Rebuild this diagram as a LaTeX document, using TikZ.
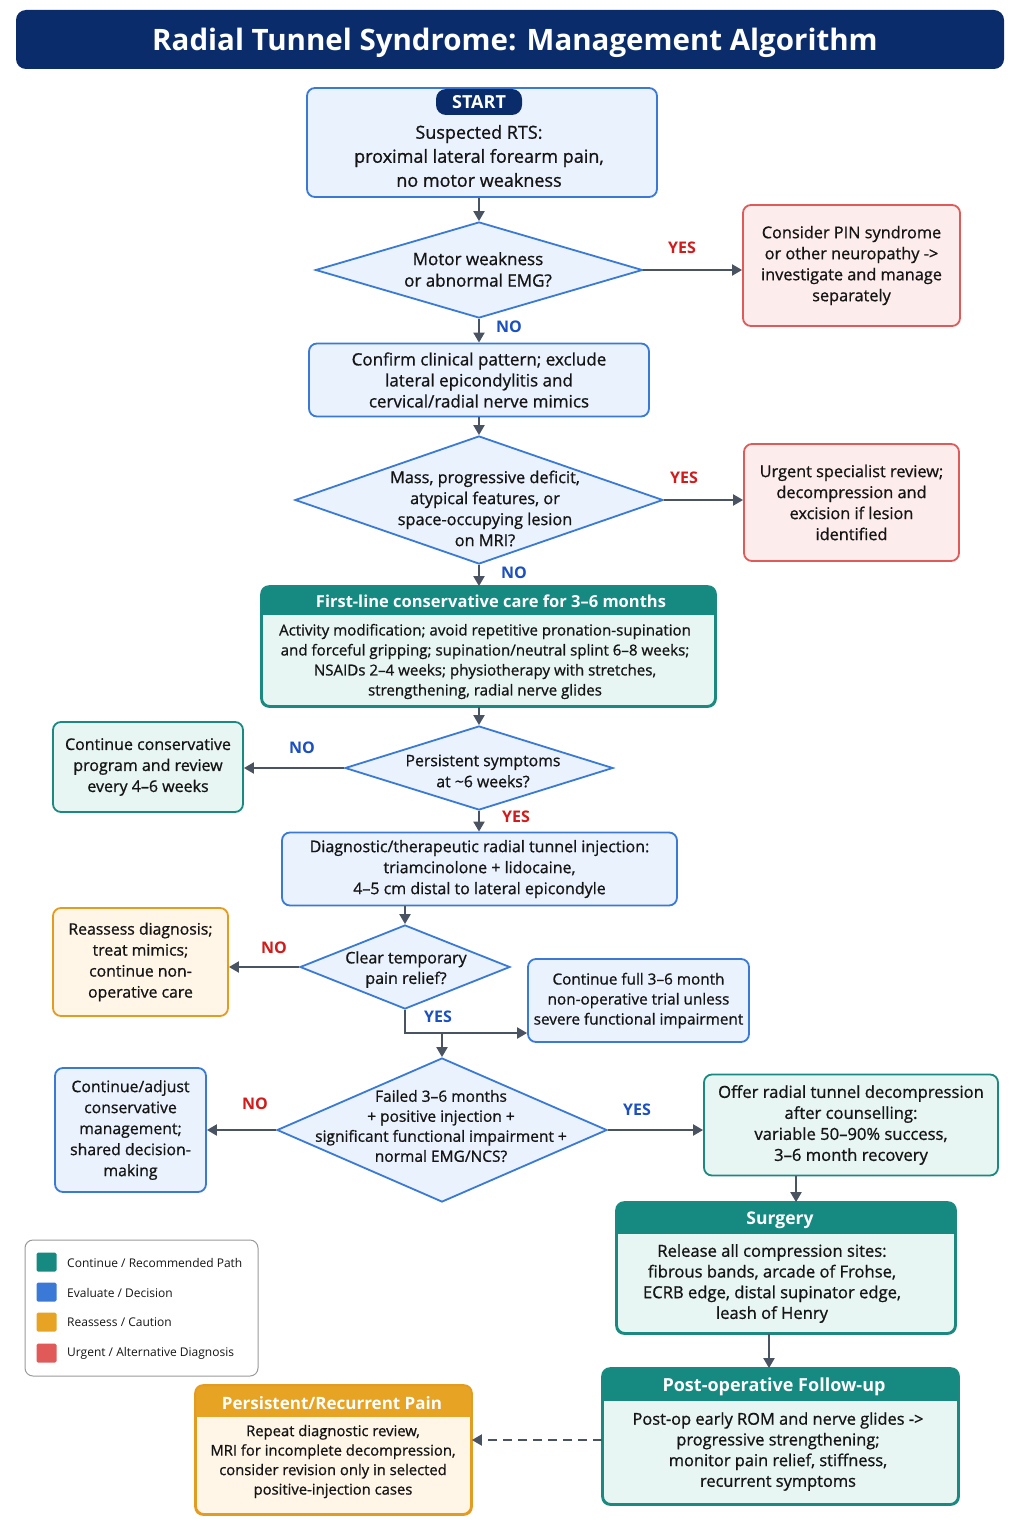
\documentclass[tikz,border=0pt]{standalone}
\usepackage{fontspec}
\setmainfont{Open Sans}
\newfontfamily\semib{Open Sans}[FakeBold=0.9]
\usetikzlibrary{shapes.geometric,arrows.meta}
\definecolor{navy}{HTML}{0B2C6B}
\definecolor{bluec}{HTML}{3A7AD6}
\definecolor{bluef}{HTML}{EAF2FD}
\definecolor{redc}{HTML}{E05A5A}
\definecolor{redf}{HTML}{FDECEC}
\definecolor{tealc}{HTML}{1A8A80}
\definecolor{tealf}{HTML}{E7F5F3}
\definecolor{tealh}{HTML}{168A80}
\definecolor{orc}{HTML}{E39B20}
\definecolor{orf}{HTML}{FFF6E8}
\definecolor{orh}{HTML}{E6A324}
\definecolor{arrowc}{HTML}{4A5361}
\definecolor{yesred}{HTML}{D01C1C}
\definecolor{noblue}{HTML}{1C4FC0}
\definecolor{txtc}{HTML}{151515}
\definecolor{legc}{HTML}{9A9A9A}
\newcommand{\bsz}[2]{\semib\fontsize{#1}{#2}\selectfont}
\begin{document}
\begin{tikzpicture}[x=1pt,y=-1pt,
  every node/.style={text=txtc},
  bodyfont/.style={font=\bsz{16.3}{21}},
  box/.style={rectangle, rounded corners=8pt, line width=1.8pt, inner sep=0pt, align=center, bodyfont},
  bluebox/.style={box, draw=bluec, fill=bluef},
  redbox/.style={box, draw=redc, fill=redf},
  tealbox/.style={box, draw=tealc, fill=tealf},
  orbox/.style={box, draw=orc, fill=orf},
  dia/.style={diamond, draw=bluec, fill=bluef, line width=1.8pt, inner sep=0pt},
  txt/.style={align=center, bodyfont, inner sep=0pt},
  hdr/.style={align=center, inner sep=0pt, text=white, font=\fontsize{16.5}{20}\selectfont\bfseries},
  lbl/.style={inner sep=0pt, font=\fontsize{16}{18}\selectfont\bfseries},
  arr/.style={draw=arrowc, line width=2pt, -{Triangle[length=10pt,width=11pt]}},
  legtxt/.style={anchor=west, inner sep=0pt, font=\fontsize{12}{14}\selectfont},
  legsq/.style={minimum width=20pt, minimum height=19pt, inner sep=0pt, rounded corners=1.5pt},
]
\useasboundingbox (0,0) rectangle (1024,1536);
\fill[white] (0,0) rectangle (1024,1536);

% Title
\node[fill=navy, rounded corners=10pt, minimum width=988pt, minimum height=59pt, inner sep=0pt] (title) at (510,39.5) {};
\node[inner sep=0pt, text=white, font=\fontsize{29.5}{34}\selectfont\bfseries] (titlet) at (515,43) {Radial Tunnel Syndrome: Management Algorithm};

% Start
\node[bluebox, minimum width=350pt, minimum height=109pt] (start) at (482,142.5) {};
\node[fill=navy, rounded corners=10pt, minimum width=86pt, minimum height=26pt, inner sep=0pt,
      text=white, font=\fontsize{18}{20}\selectfont\bfseries] (startlbl) at (479,102) {START};
\node[txt, font=\bsz{18}{24}] (starttxt) at (479,156) {Suspected RTS:\\proximal lateral forearm pain,\\no motor weakness};

% Decision 1
\node[dia, minimum width=327pt, minimum height=96pt] (d1) at (479,270) {};
\node[txt, font=\bsz{17}{21.5}] (d1t) at (478,269.5) {Motor weakness\\or abnormal EMG?};
\node[redbox, minimum width=217pt, minimum height=121pt] (red1) at (851.5,265.5) {Consider PIN syndrome\\or other neuropathy ->\\investigate and manage\\separately};

% Confirm
\node[bluebox, minimum width=340pt, minimum height=73pt, font=\bsz{17}{21}] (conf) at (479,380) {Confirm clinical pattern; exclude\\lateral epicondylitis and\\cervical/radial nerve mimics};

% Decision 2
\node[dia, minimum width=368pt, minimum height=128pt] (d2) at (479,500) {};
\node[txt] (d2t) at (485,508.5) {Mass, progressive deficit,\\atypical features, or\\space-occupying lesion\\on MRI?};
\node[redbox, minimum width=215pt, minimum height=117pt] (red2) at (851.5,502.5) {Urgent specialist review;\\decompression and\\excision if lesion\\identified};

% First-line conservative
\node[tealbox, minimum width=453pt, minimum height=119pt] (fl) at (488.5,646.5) {};
\begin{scope}
\clip (262,587) rectangle (715,614);
\fill[tealh, rounded corners=8pt] (fl.north west) rectangle (fl.south east);
\end{scope}
\draw[tealc, line width=1.8pt, rounded corners=8pt] (fl.north west) rectangle (fl.south east);
\node[hdr] (flh) at (491,601.5) {First-line conservative care for 3–6 months};
\node[txt, font=\bsz{15.1}{20}] (flt) at (485,661.5) {Activity modification; avoid repetitive pronation-supination\\and forceful gripping; supination/neutral splint 6–8 weeks;\\NSAIDs 2–4 weeks; physiotherapy with stretches,\\strengthening, radial nerve glides};

% Decision 3
\node[dia, minimum width=268pt, minimum height=84pt] (d3) at (479,768) {};
\node[txt, font=\bsz{15.8}{21}] (d3t) at (483,771) {Persistent symptoms\\at \textasciitilde 6 weeks?};
\node[tealbox, minimum width=190pt, minimum height=90pt, font=\bsz{16}{21}] (cont1) at (148,767) {Continue conservative\\program and review\\every 4–6 weeks};

% Injection
\node[bluebox, minimum width=395pt, minimum height=73pt, font=\bsz{16}{21}] (inj) at (479.5,869) {Diagnostic/therapeutic radial tunnel injection:\\triamcinolone + lidocaine,\\4–5 cm distal to lateral epicondyle};

% Decision 4
\node[dia, minimum width=210pt, minimum height=84pt] (d4) at (405,967) {};
\node[txt, font=\bsz{16}{20.5}] (d4t) at (406,969.5) {Clear temporary\\pain relief?};
\node[orbox, minimum width=175pt, minimum height=108pt, font=\bsz{15.8}{21}] (reas) at (140.5,962) {Reassess diagnosis;\\treat mimics;\\continue non-\\operative care};
\node[bluebox, minimum width=221pt, minimum height=83pt, font=\bsz{15.3}{20}] (full) at (638.5,1000.5) {Continue full 3–6 month\\non-operative trial unless\\severe functional impairment};
\coordinate (yesj) at (442,1033);

% Decision 5
\node[dia, minimum width=330pt, minimum height=144pt] (d5) at (442,1130) {};
\node[txt, font=\bsz{15.5}{20}] (d5t) at (441,1126) {Failed 3–6 months\\+ positive injection +\\significant functional impairment +\\normal EMG/NCS?};
\node[bluebox, minimum width=151pt, minimum height=124pt, font=\bsz{15.8}{21}] (adj) at (130.5,1130) {Continue/adjust\\conservative\\management;\\shared decision-\\making};
\node[tealbox, minimum width=294pt, minimum height=101pt, font=\bsz{16.6}{21}] (offer) at (851,1125) {Offer radial tunnel decompression\\after counselling:\\variable 50–90\% success,\\3–6 month recovery};

% Surgery
\node[tealbox, minimum width=338pt, minimum height=130pt] (surg) at (786,1268) {};
\begin{scope}
\clip (617,1203) rectangle (955,1233);
\fill[tealh, rounded corners=8pt] (surg.north west) rectangle (surg.south east);
\end{scope}
\draw[tealc, line width=1.8pt, rounded corners=8pt] (surg.north west) rectangle (surg.south east);
\node[hdr, font=\fontsize{17.5}{20}\selectfont\bfseries] (surgh) at (780,1220) {Surgery};
\node[txt, font=\bsz{16.6}{20.7}] (surgt) at (772,1283.5) {Release all compression sites:\\fibrous bands, arcade of Frohse,\\ECRB edge, distal supinator edge,\\leash of Henry};

% Post-op
\node[tealbox, minimum width=355pt, minimum height=135pt] (post) at (780.5,1436.5) {};
\begin{scope}
\clip (603,1369) rectangle (958,1400);
\fill[tealh, rounded corners=8pt] (post.north west) rectangle (post.south east);
\end{scope}
\draw[tealc, line width=1.8pt, rounded corners=8pt] (post.north west) rectangle (post.south east);
\node[hdr, font=\fontsize{18}{20}\selectfont\bfseries] (posth) at (774,1387) {Post-operative Follow-up};
\node[txt, font=\bsz{16.4}{20.7}] (postt) at (778,1451.5) {Post-op early ROM and nerve glides ->\\progressive strengthening;\\monitor pain relief, stiffness,\\recurrent symptoms};

% Persistent
\node[orbox, minimum width=275pt, minimum height=128pt] (pers) at (333.5,1450) {};
\begin{scope}
\clip (196,1386) rectangle (471,1416);
\fill[orh, rounded corners=8pt] (pers.north west) rectangle (pers.south east);
\end{scope}
\draw[orc, line width=1.8pt, rounded corners=8pt] (pers.north west) rectangle (pers.south east);
\node[hdr, font=\fontsize{17}{20}\selectfont\bfseries] (persh) at (332,1403) {Persistent/Recurrent Pain};
\node[txt, font=\bsz{14.8}{19.5}] (perst) at (333,1461.5) {Repeat diagnostic review,\\MRI for incomplete decompression,\\consider revision only in selected\\positive-injection cases};

% Legend
\node[draw=legc, line width=1pt, rounded corners=8pt, fill=white, minimum width=233pt, minimum height=136pt, inner sep=0pt] (leg) at (141.5,1308) {};
\node[legsq, fill=tealh] (lq1) at (46.5,1262) {};
\node[legsq, fill=bluec] (lq2) at (46.5,1292) {};
\node[legsq, fill=orh] (lq3) at (46.5,1322) {};
\node[legsq, fill=redc] (lq4) at (46.5,1353) {};
\node[legtxt] (lt1) at (67,1262.5) {Continue / Recommended Path};
\node[legtxt] (lt2) at (67,1292.5) {Evaluate / Decision};
\node[legtxt] (lt3) at (67,1322.5) {Reassess / Caution};
\node[legtxt] (lt4) at (67,1353.5) {Urgent / Alternative Diagnosis};

% Connectors
\draw[arr] (start.south -| d1.north) -- (d1.north);
\draw[arr] (d1.east) -- (red1.west |- d1.east);
\draw[arr] (d1.south) -- (conf.north);
\draw[arr] (conf.south) -- (d2.north);
\draw[arr] (d2.east) -- (red2.west |- d2.east);
\draw[arr] (d2.south) -- (fl.north -| d2.south);
\draw[arr] (fl.south -| d3.north) -- (d3.north);
\draw[arr] (d3.west) -- (cont1.east |- d3.west);
\draw[arr] (d3.south) -- (inj.north -| d3.south);
\draw[arr] (d4.north |- inj.south) -- (d4.north);
\draw[arr] (d4.west) -- (reas.east |- d4.west);
\draw[arr] (d4.south) -- (d4.south |- yesj) -- (full.west |- yesj);
\draw[arr] (yesj) -- (d5.north);
\draw[arr] (d5.west) -- (adj.east |- d5.west);
\draw[arr] (d5.east) -- (offer.west |- d5.east);
\coordinate (oc) at (796,1175);
\draw[arr] (offer.south -| oc) -- (surg.north -| oc);
\coordinate (sc) at (769,1333);
\draw[arr] (surg.south -| sc) -- (post.north -| sc);
\coordinate (pc) at (600,1440);
\draw[arr, dash pattern=on 9pt off 6pt] (post.west |- pc) -- (pers.east |- pc);

% Labels
\node[lbl, text=yesred] (l1) at (682,248) {YES};
\node[lbl, text=noblue] (l2) at (509,327) {NO};
\node[lbl, text=yesred] (l3) at (684,478) {YES};
\node[lbl, text=noblue] (l4) at (514,573) {NO};
\node[lbl, text=noblue] (l5) at (302,748) {NO};
\node[lbl, text=yesred] (l6) at (516,817) {YES};
\node[lbl, text=yesred] (l7) at (274,948) {NO};
\node[lbl, text=noblue] (l8) at (438,1017) {YES};
\node[lbl, text=yesred] (l9) at (255,1104) {NO};
\node[lbl, text=noblue] (l10) at (637,1110) {YES};
\end{tikzpicture}
\end{document}
